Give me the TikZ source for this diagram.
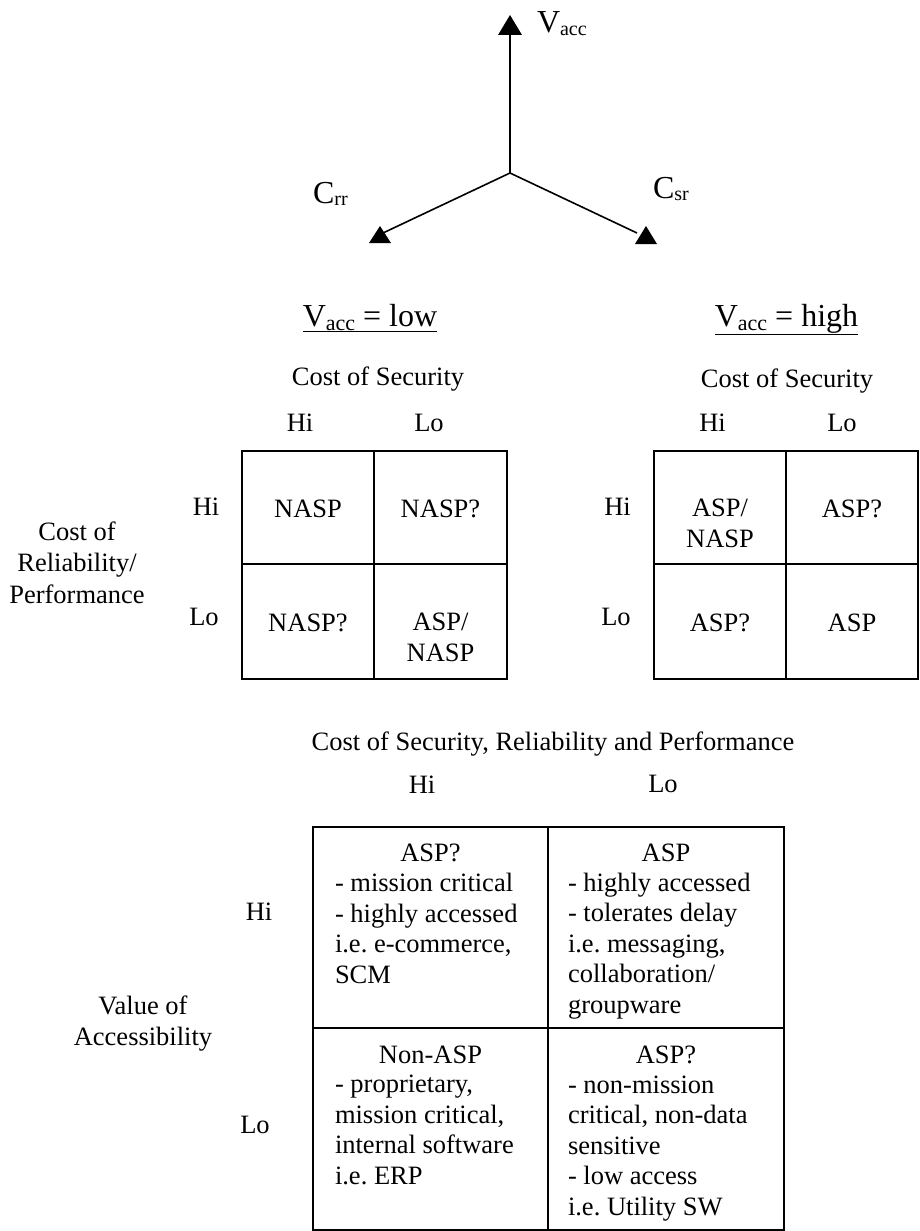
\documentclass[tikz,border=0pt]{standalone}
\usepackage{fontspec}
\setmainfont{Liberation Serif}
\newcommand\axsub[1]{\raisebox{-2.5pt}{\fontsize{20}{20}\selectfont #1}}
\newcommand\ttlsub[1]{\raisebox{-4pt}{\fontsize{22}{22}\selectfont #1}}
\begin{document}
\frenchspacing
\begin{tikzpicture}[x=1pt,y=-1pt,
  every node/.style={inner sep=0pt, outer sep=0pt, font=\fontsize{26.5}{30.5}\selectfont},
  axis/.style={line width=1.6pt},
  tri/.style={fill=black},
  cellbox/.style={draw, line width=1.6pt},
  lbl/.style={anchor=base},
  lbll/.style={anchor=base west, align=left},
  lblc/.style={anchor=base, align=center},
  big/.style={font=\fontsize{32}{36}\selectfont}]
\useasboundingbox (0,0) rectangle (919,1231);

% ---- axes ----
\coordinate (O) at (510,173);
\coordinate (Vend) at (510,34);
\coordinate (Lend) at (383,233);
\coordinate (Rend) at (637,233);
\draw[axis] (O) -- (Vend);
\draw[axis] (O) -- (Lend);
\draw[axis] (O) -- (Rend);
\fill[tri] (510,15) -- (498,35) -- (522,35) -- cycle;
\fill[tri] (380,226) -- (369,243) -- (391,243) -- cycle;
\fill[tri] (646,226) -- (635,244) -- (657,244) -- cycle;
\node[big, anchor=base west] (vacc) at (537,33) {V\axsub{acc}};
\node[big, anchor=base west] (crr) at (313,203) {C\axsub{rr}};
\node[big, anchor=base west] (csr) at (653,198) {C\axsub{sr}};

% ---- titles ----
\node[big, lbl] (tlow) at (370,326) {\underline{V\ttlsub{acc} = low}};
\node[big, lbl] (thigh) at (786.5,326) {\underline{V\ttlsub{acc} = high}};

% ---- left matrix ----
\node[lbl] (csL) at (378,385) {Cost of Security};
\node[lbl] (hiL) at (300,431) {Hi};
\node[lbl] (loL) at (429,431) {Lo};
\node[lbl] (rhiL) at (206,515) {Hi};
\node[lbl] (rloL) at (204,625) {Lo};
\node[lblc] (crp) at (77,603) {Cost of\\[1pt]Reliability/\\[1pt]Performance};
\draw[cellbox] (242,451) rectangle (507,679);
\draw[cellbox] (374,451) -- (374,679);
\draw[cellbox] (242,564) -- (507,564);
\node[lbl] (l11) at (308,517) {NASP};
\node[lbl] (l12) at (440.5,517) {NASP?};
\node[lbl] (l21) at (308,631) {NASP?};
\node[lblc] (l22) at (440.5,661) {ASP/\\NASP};

% ---- right matrix ----
\node[lbl] (csR) at (787,387) {Cost of Security};
\node[lbl] (hiR) at (712.5,431) {Hi};
\node[lbl] (loR) at (842,431) {Lo};
\node[lbl] (rhiR) at (617.5,515) {Hi};
\node[lbl] (rloR) at (616,625) {Lo};
\draw[cellbox] (654,451) rectangle (918,679);
\draw[cellbox] (786,451) -- (786,679);
\draw[cellbox] (654,564) -- (918,564);
\node[lblc] (r11) at (720,547) {ASP/\\NASP};
\node[lbl] (r12) at (852,517) {ASP?};
\node[lbl] (r21) at (720,631) {ASP?};
\node[lbl] (r22) at (852,631) {ASP};

% ---- bottom matrix ----
\node[lbl] (csrp) at (553,750) {Cost of Security, Reliability and Performance};
\node[lbl] (hiB) at (422,793) {Hi};
\node[lbl] (loB) at (663,792) {Lo};
\node[lbl] (rhiB) at (259,920) {Hi};
\node[lbl] (rloB) at (255,1133) {Lo};
\node[lblc] (voa) at (143,1045) {Value of\\Accessibility};
\draw[cellbox] (313,827) rectangle (784,1230);
\draw[cellbox] (548,827) -- (548,1230);
\draw[cellbox] (313,1028) -- (784,1028);

\node[lbl] (b11t) at (430.5,861) {ASP?};
\node[lbll] (b11) at (335,983) {- mission critical\\- highly accessed\\i.e. e-commerce,\\SCM};
\node[lbl] (b12t) at (666,861) {ASP};
\node[lbll] (b12) at (568,1013) {- highly accessed\\- tolerates delay\\i.e. messaging,\\collaboration/\\groupware};
\node[lbl] (b21t) at (430.5,1063) {Non-ASP};
\node[lbll] (b21) at (335,1184) {- proprietary,\\mission critical,\\internal software\\i.e. ERP};
\node[lbl] (b22t) at (666,1063) {ASP?};
\node[lbll] (b22) at (568,1215) {- non-mission\\critical, non-data\\sensitive\\- low access\\i.e. Utility SW};
\end{tikzpicture}
\end{document}
